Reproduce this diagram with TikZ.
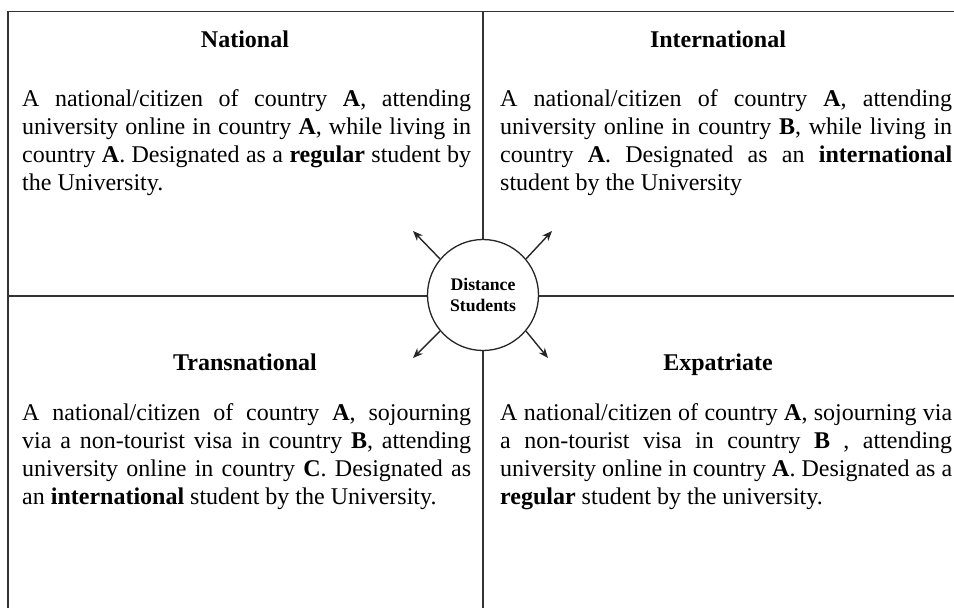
\documentclass[tikz,border=0pt]{standalone}
\usepackage{fontspec}
\setmainfont{Liberation Serif}
\usetikzlibrary{arrows.meta}
\newcommand{\jlL}[1]{\hbox to 449pt{#1}}
\newcommand{\jlR}[1]{\hbox to 452pt{#1}}
\tikzset{
  frame/.style={draw=black!80, line width=1.3pt},
  titletext/.style={font=\bfseries\fontsize{24}{28}\selectfont, inner sep=0pt, anchor=base},
  bodytext/.style={font=\fontsize{24}{28}\selectfont, inner sep=0pt, anchor=base west},
  hub/.style={circle, draw=black!85, line width=1.3pt, fill=white, minimum size=111pt, inner sep=0pt, align=center, font=\bfseries\fontsize{17.7}{21.5}\selectfont},
  ray/.style={draw=black!85, line width=1.4pt, -{Stealth[length=10pt,width=8pt]}}
}
\begin{document}
\begin{tikzpicture}[x=1pt,y=-1pt]
\useasboundingbox[fill=white] (0,0) rectangle (954,608);
% frame lines
\coordinate (BL) at (8,608);
\coordinate (TL) at (8,11.7);
\coordinate (TR) at (954,11.7);
\coordinate (TM) at (483,11.7);
\coordinate (BM) at (483,608);
\coordinate (ML) at (8,296);
\coordinate (MR) at (954,296);
\draw[frame] (BL) -- (TL) -- (TR);
\draw[frame] (TM) -- (BM);
\draw[frame] (ML) -- (MR);
% hub
\node[hub] (c) at (483,295) {Distance\\Students};
\coordinate (tNW) at (413,231);
\coordinate (tNE) at (552,231);
\coordinate (tSW) at (413,358);
\coordinate (tSE) at (548,358);
\draw[ray] (c.140) -- (tNW);
\draw[ray] (c.40) -- (tNE);
\draw[ray] (c.220) -- (tSW);
\draw[ray] (c.320) -- (tSE);
% titles
\node[titletext] (hN) at (245,47) {National};
\node[titletext] (hI) at (718,47) {International};
\node[titletext] (hT) at (245,370) {Transnational};
\node[titletext] (hE) at (718,370) {Expatriate};
% bodies
\node[bodytext] (bN) at (22,106) {\vtop{%
\jlL{A national/citizen of country \textbf{A}, attending}
\jlL{university online in country \textbf{A}, while living in}
\jlL{country \textbf{A}. Designated as a \textbf{regular} student by}
\hbox{the University.}}};
\node[bodytext] (bI) at (500,106) {\vtop{%
\jlR{A national/citizen of country \textbf{A}, attending}
\jlR{university online in country \textbf{B}, while living in}
\jlR{country \textbf{A}. Designated as an \textbf{international}}
\hbox{student by the University}}};
\node[bodytext] (bT) at (22,420) {\vtop{%
\jlL{A national/citizen of country \textbf{A}, sojourning}
\jlL{via a non-tourist visa in country \textbf{B}, attending}
\jlL{university online in country \textbf{C}. Designated as}
\hbox{an \textbf{international} student by the University.}}};
\node[bodytext] (bE) at (500,420) {\vtop{%
\jlR{A national/citizen of country \textbf{A}, sojourning via}
\jlR{a non-tourist visa in country \textbf{B} , attending}
\jlR{university online in country \textbf{A}. Designated as a}
\hbox{\textbf{regular} student by the university.}}};
\end{tikzpicture}
\end{document}
